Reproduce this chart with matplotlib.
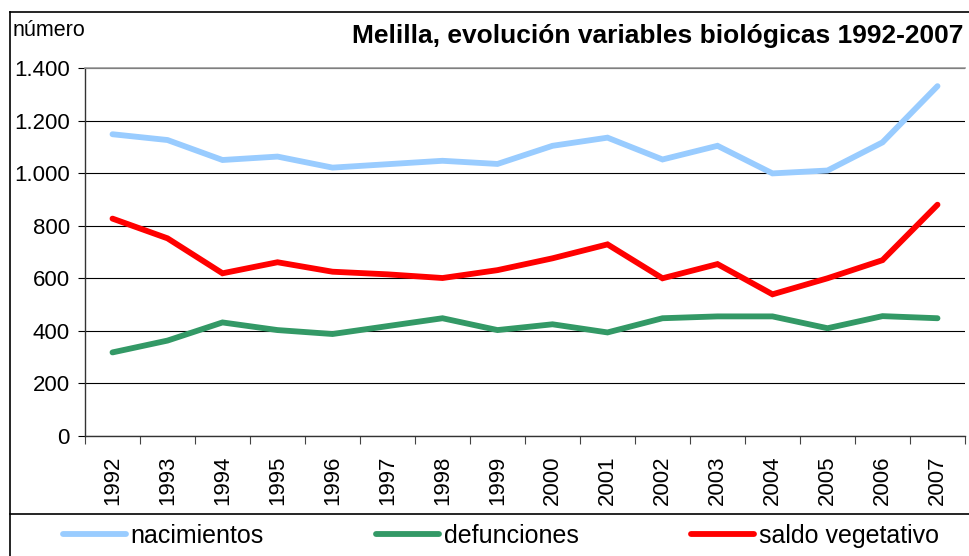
import numpy as np
import matplotlib
matplotlib.use("Agg")
import matplotlib.pyplot as plt
from matplotlib.lines import Line2D
from matplotlib.ticker import FuncFormatter, MultipleLocator

plt.rcParams['font.family'] = ['Liberation Sans', 'DejaVu Sans']

years = [str(y) for y in range(1992, 2008)]
nacimientos = [1148, 1126, 1050, 1063, 1021, 1034, 1047, 1035,
               1104, 1135, 1052, 1104, 999, 1010, 1117, 1331]
defunciones = [318, 363, 432, 403, 388, 418, 448, 403,
               425, 394, 448, 455, 455, 410, 456, 448]
saldo = [827, 752, 619, 661, 625, 615, 601, 631,
         676, 729, 600, 654, 539, 600, 669, 880]

series = [("nacimientos", nacimientos, "#99CCFF"),
          ("defunciones", defunciones, "#339966"),
          ("saldo vegetativo", saldo, "#FF0000")]

W, H = 969, 556
fig = plt.figure(figsize=(W / 100, H / 100), dpi=100)
ax = fig.add_axes([85 / W, 1 - 436 / H, 880 / W, 368 / H])

x = np.arange(len(years))
handles = []
for name, vals, col in series:
    h, = ax.plot(x, vals, color=col, lw=4.2, solid_capstyle='round',
                 solid_joinstyle='miter', label=name)
    handles.append(h)

ax.set_xlim(-0.5, len(years) - 0.5)
ax.set_ylim(0, 1400)
ax.yaxis.set_major_locator(MultipleLocator(200))
ax.yaxis.set_major_formatter(FuncFormatter(lambda v, p: f"{int(v):,}".replace(",", ".")))
ax.grid(axis='y', color='black', lw=0.8)
ax.set_axisbelow(True)

ax.set_xticks(x)
ax.set_xticklabels(years, rotation=90)
ax.set_xticks(np.arange(-0.5, len(years), 1), minor=True)
ax.tick_params(axis='x', which='major', length=0, pad=14, labelsize=16)
ax.tick_params(axis='x', which='minor', length=6, width=0.8, color='#444444')
ax.tick_params(axis='y', length=5, width=0.8, labelsize=16, pad=6)

for s in ['left', 'bottom']:
    ax.spines[s].set_color('#333333')
    ax.spines[s].set_linewidth(1.0)
ax.spines['top'].set_color('#999999')
ax.spines['top'].set_linewidth(1.2)
ax.spines['right'].set_visible(False)

# titles
fig.text(963 / W, 1 - 36 / H, "Melilla, evolución variables biológicas 1992-2007",
         ha='right', va='center', fontsize=19, fontweight='bold')
fig.text(13 / W, 1 - 31 / H, "número", ha='left', va='center', fontsize=15.5)

# outer frame and legend box
frame = [([10, W], [12, 12]), ([10, 10], [12, H]), ([10, W], [514, 514])]
for xs, ys in frame:
    fig.add_artist(Line2D([v / W for v in xs], [1 - v / H for v in ys],
                          color='black', lw=1.2))

fig.legend(handles=handles, loc='center left', bbox_to_anchor=(63 / W, 1 - 536 / H),
           ncol=3, frameon=False, fontsize=18, handlelength=2.5,
           handletextpad=0.2, columnspacing=4.5, borderpad=0, borderaxespad=0)

fig.savefig("out.png", dpi=100)
